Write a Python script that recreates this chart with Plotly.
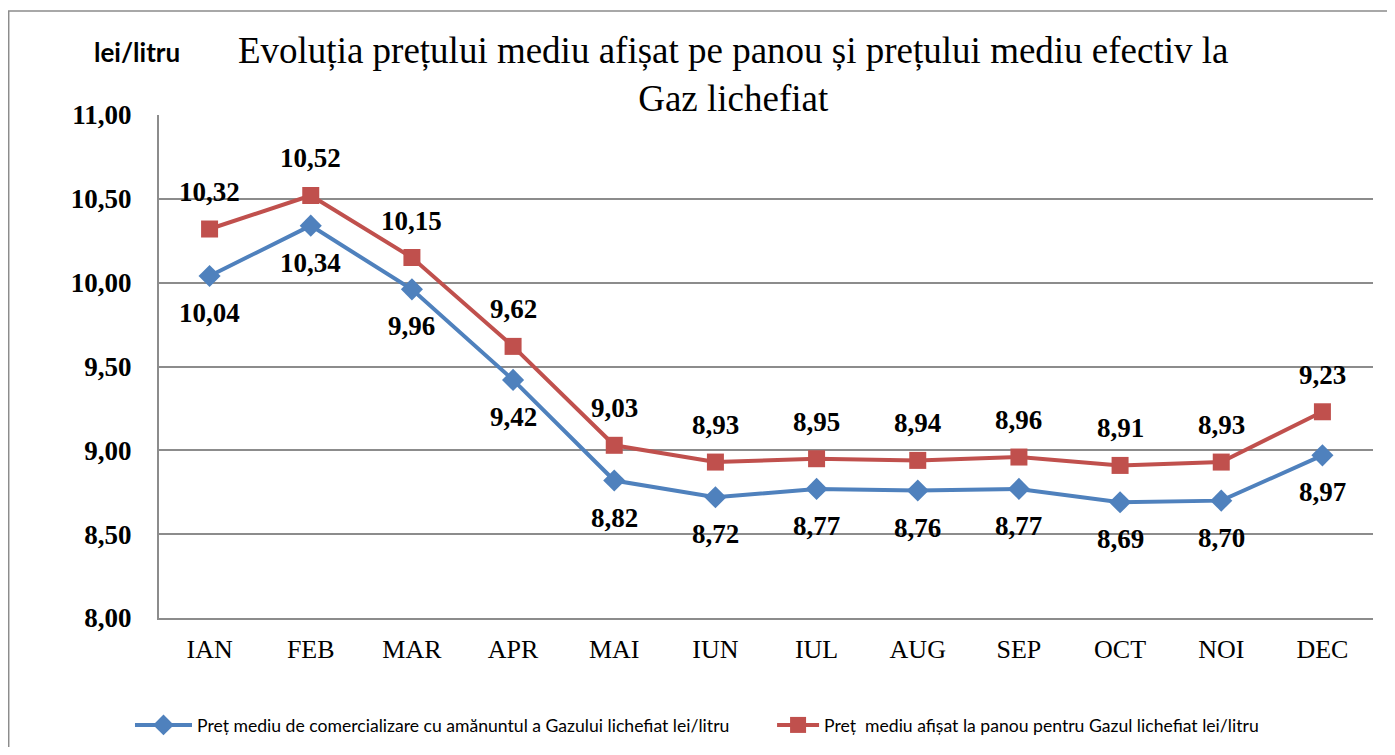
import plotly.graph_objects as go

months = ["IAN", "FEB", "MAR", "APR", "MAI", "IUN", "IUL", "AUG", "SEP", "OCT", "NOI", "DEC"]
pret_efectiv = [10.04, 10.34, 9.96, 9.42, 8.82, 8.72, 8.77, 8.76, 8.77, 8.69, 8.70, 8.97]
pret_panou = [10.32, 10.52, 10.15, 9.62, 9.03, 8.93, 8.95, 8.94, 8.96, 8.91, 8.93, 9.23]

name_efectiv = "Preț mediu de comercializare cu amănuntul a Gazului lichefiat lei/litru"
name_panou = "Preț  mediu afișat la panou pentru Gazul lichefiat lei/litru"
title_text = "Evoluția prețului mediu afișat pe panou și prețului mediu efectiv la<br>Gaz lichefiat"

BLUE = "#4F81BD"
RED = "#C0504D"
GRID = "#8C8C8C"
SERIF = "Liberation Serif, Times New Roman, serif"
SANS = "Lato, Carlito, Calibri, sans-serif"


def fmt(v):
    return f"{v:.2f}".replace(".", ",")


fig = go.Figure()
fig.add_trace(go.Scatter(
    x=months, y=pret_efectiv, mode="lines+markers", name=name_efectiv,
    line={"color": BLUE, "width": 4},
    marker={"symbol": "diamond", "size": 17, "color": BLUE},
    legend="legend",
))
fig.add_trace(go.Scatter(
    x=months, y=pret_panou, mode="lines+markers", name=name_panou,
    line={"color": RED, "width": 4},
    marker={"symbol": "square", "size": 17, "color": RED},
    legend="legend2",
))

label_font = {"family": SERIF, "size": 27, "color": "black"}
for m, v in zip(months, pret_efectiv):
    fig.add_annotation(x=m, y=v, text=f"<b>{fmt(v)}</b>", showarrow=False,
                       yshift=-37, font=label_font)
for m, v in zip(months, pret_panou):
    fig.add_annotation(x=m, y=v, text=f"<b>{fmt(v)}</b>", showarrow=False,
                       yshift=37, font=label_font)

# unit label and outer frame
fig.add_annotation(x=-0.018, y=1.1255, xref="paper", yref="paper", xanchor="center",
                   yanchor="middle", text="<b>lei/litru</b>", showarrow=False,
                   font={"family": SANS, "size": 26, "color": "black"})
fig.add_shape(type="rect", xref="paper", yref="paper", x0=-0.1238, x1=1.3, y0=-0.6, y1=1.207,
              line={"color": GRID, "width": 1.5}, layer="below")

legend_common = {"orientation": "h", "yref": "container", "y": 0.0298, "yanchor": "middle",
                 "xanchor": "left", "font": {"family": SANS, "size": 17.6, "color": "black"},
                 "bgcolor": "rgba(0,0,0,0)"}

# page body adds an 8px offset, so the figure is sized to fit inside the window
fig.update_layout(
    width=1379, height=739,
    margin={"l": 151, "r": 14, "t": 107, "b": 129},
    paper_bgcolor="white", plot_bgcolor="white",
    title={"text": title_text, "x": 0.473, "xref": "paper", "xanchor": "center",
           "y": (739 - 55) / 739, "yref": "container", "yanchor": "middle",
           "font": {"family": SERIF, "size": 37, "color": "black"}},
    showlegend=True,
    legend={**legend_common, "x": -0.0239, "itemwidth": 57},
    legend2={**legend_common, "x": 0.505, "itemwidth": 42},
    xaxis={"type": "category", "range": [-0.5, 11.5], "showgrid": False,
           "showline": True, "linecolor": GRID, "linewidth": 2,
           "tickfont": {"family": SERIF, "size": 26, "color": "black"},
           "ticklabelstandoff": 7},
    yaxis={"range": [8, 11], "dtick": 0.5, "tickformat": ".2f",
           "showgrid": True, "gridcolor": GRID, "gridwidth": 2,
           "showline": True, "linecolor": GRID, "linewidth": 2, "zeroline": False,
           "tickfont": {"family": SERIF, "size": 27, "color": "black"},
           "ticklabelstandoff": 20},
    separators=", ",
)
fig.update_yaxes(tickprefix="<b>", ticksuffix="</b>")

fig.write_html("out.html")
